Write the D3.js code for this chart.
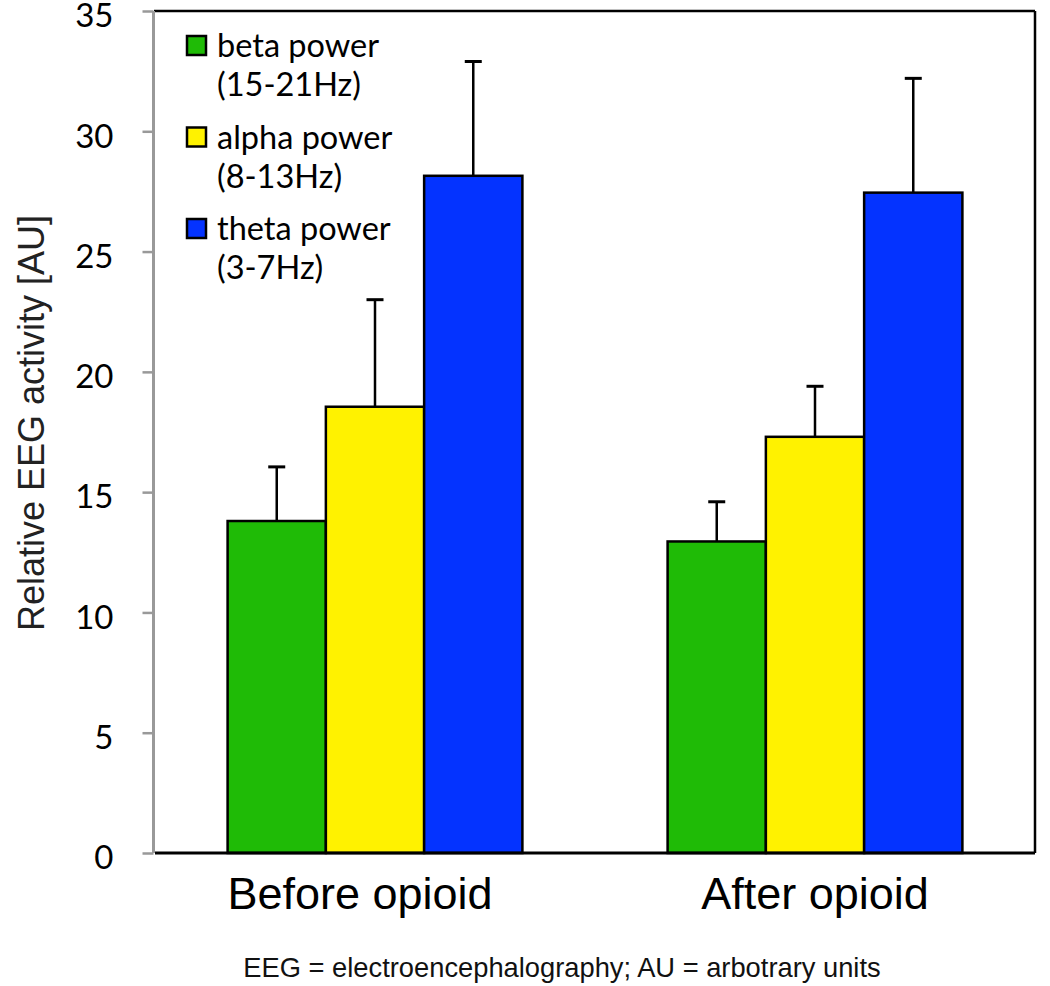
<!DOCTYPE html>
<html>
<head>
<meta charset="utf-8">
<script src="https://cdn.jsdelivr.net/npm/d3@7"></script>
<style>
  html, body { margin: 0; padding: 0; background: #fff; }
  svg { display: block; }
</style>
</head>
<body>
<script>
// ---- data ----
const categories = ["Before opioid", "After opioid"];
const seriesNames = ["beta power", "alpha power", "theta power"];
const seriesRanges = ["(15-21Hz)", "(8-13Hz)", "(3-7Hz)"];
const seriesColors = ["#1fbb06", "#fff200", "#0433ff"];
const betaValues  = [13.8, 12.95];
const alphaValues = [18.55, 17.3];
const thetaValues = [28.15, 27.45];
const betaErr  = [2.25, 1.65];
const alphaErr = [4.45, 2.1];
const thetaErr = [4.75, 4.75];
const yTicks = [0, 5, 10, 15, 20, 25, 30, 35];
const yLabel = "Relative EEG activity [AU]";
const footnote = "EEG = electroencephalography; AU = arbotrary units";

(function () {
const values = [betaValues, alphaValues, thetaValues];
const errs = [betaErr, alphaErr, thetaErr];

const W = 1050, H = 986;
const pLeft = 155, pRight = 1035, pTop = 11, pBottom = 853;

const svg = d3.select("body").append("svg").attr("width", W).attr("height", H);

const y = d3.scaleLinear().domain([0, 35]).range([pBottom, pTop]);
const x0 = d3.scaleBand().domain(categories).range([pLeft, pRight])
  .paddingInner(0.33).paddingOuter(0.165);
const x1 = d3.scaleBand().domain(seriesNames).range([0, x0.bandwidth()]);

// frame: top & right borders black
svg.append("line").attr("x1", pLeft - 1).attr("x2", pRight).attr("y1", pTop).attr("y2", pTop)
  .attr("stroke", "#000").attr("stroke-width", 2.5);
svg.append("line").attr("x1", pRight).attr("x2", pRight).attr("y1", pTop).attr("y2", pBottom)
  .attr("stroke", "#000").attr("stroke-width", 2.5);

// bars data
const barData = [];
categories.forEach((c, ci) => {
  seriesNames.forEach((s, si) => {
    barData.push({ c, s, si, v: values[si][ci], e: errs[si][ci] });
  });
});

// error bars (upper only)
const eg = svg.append("g");
barData.forEach(d => {
  const cx = x0(d.c) + x1(d.s) + x1.bandwidth() / 2;
  eg.append("line").attr("x1", cx).attr("x2", cx)
    .attr("y1", y(d.v)).attr("y2", y(d.v + d.e))
    .attr("stroke", "#000").attr("stroke-width", 2.5);
  eg.append("line").attr("x1", cx - 8.5).attr("x2", cx + 8.5)
    .attr("y1", y(d.v + d.e)).attr("y2", y(d.v + d.e))
    .attr("stroke", "#000").attr("stroke-width", 3);
});

// bars
svg.append("g").selectAll("rect").data(barData).join("rect")
  .attr("x", d => x0(d.c) + x1(d.s))
  .attr("y", d => y(d.v))
  .attr("width", x1.bandwidth())
  .attr("height", d => y(0) - y(d.v))
  .attr("fill", d => seriesColors[d.si])
  .attr("stroke", "#000").attr("stroke-width", 2.5);

// y axis
const yAxis = d3.axisLeft(y).tickValues(yTicks).tickSize(11).tickPadding(29)
  .tickFormat(d3.format("d"));
const ya = svg.append("g").attr("transform", `translate(${pLeft - 1.5},0)`).call(yAxis);
ya.select(".domain").attr("stroke", "#999").attr("stroke-width", 3)
  .attr("d", `M0,${pTop}V${pBottom}`);
ya.selectAll(".tick line").attr("stroke", "#999").attr("stroke-width", 2.5);
ya.selectAll(".tick text").attr("fill", "#000")
  .style("font-family", "Lato, 'Open Sans', sans-serif").style("font-size", "33px")
  .attr("dy", "0.48em");

// x axis (bottom black line)
const xAxis = d3.axisBottom(x0).tickSize(0).tickPadding(24);
const xa = svg.append("g").attr("transform", `translate(0,${pBottom})`).call(xAxis);
xa.select(".domain").attr("stroke", "#000").attr("stroke-width", 3)
  .attr("d", `M${pLeft},0H${pRight}`);
xa.selectAll(".tick text").attr("fill", "#000")
  .style("font-family", "'Liberation Sans', Arial, sans-serif").style("font-size", "45px")
  .attr("dy", "0.71em")
  .attr("x", (d, i) => i === 0 ? -15 : 0);

// y label
svg.append("text")
  .attr("transform", `translate(44,423) rotate(-90)`)
  .attr("text-anchor", "middle")
  .style("font-family", "'Liberation Sans', Arial, sans-serif").style("font-size", "36px")
  .attr("fill", "#222")
  .text(yLabel);

// legend
const lg = svg.append("g");
seriesNames.forEach((s, i) => {
  const base = 57 + i * 91.5;
  lg.append("rect").attr("x", 187).attr("y", base - 21).attr("width", 19).attr("height", 19)
    .attr("fill", seriesColors[i]).attr("stroke", "#000").attr("stroke-width", 2.5);
  lg.append("text").attr("x", 217).attr("y", base)
    .style("font-family", "Lato, 'Open Sans', sans-serif").style("font-size", "32.5px")
    .attr("fill", "#000").text(s);
  lg.append("text").attr("x", 217).attr("y", base + 39)
    .style("font-family", "Lato, 'Open Sans', sans-serif").style("font-size", "32.5px")
    .attr("fill", "#000").text(seriesRanges[i]);
});

// footnote
svg.append("text").attr("x", 562).attr("y", 977).attr("text-anchor", "middle")
  .style("font-family", "'Liberation Sans', Arial, sans-serif").style("font-size", "27.3px")
  .attr("fill", "#111").text(footnote);
})();
</script>
</body>
</html>
